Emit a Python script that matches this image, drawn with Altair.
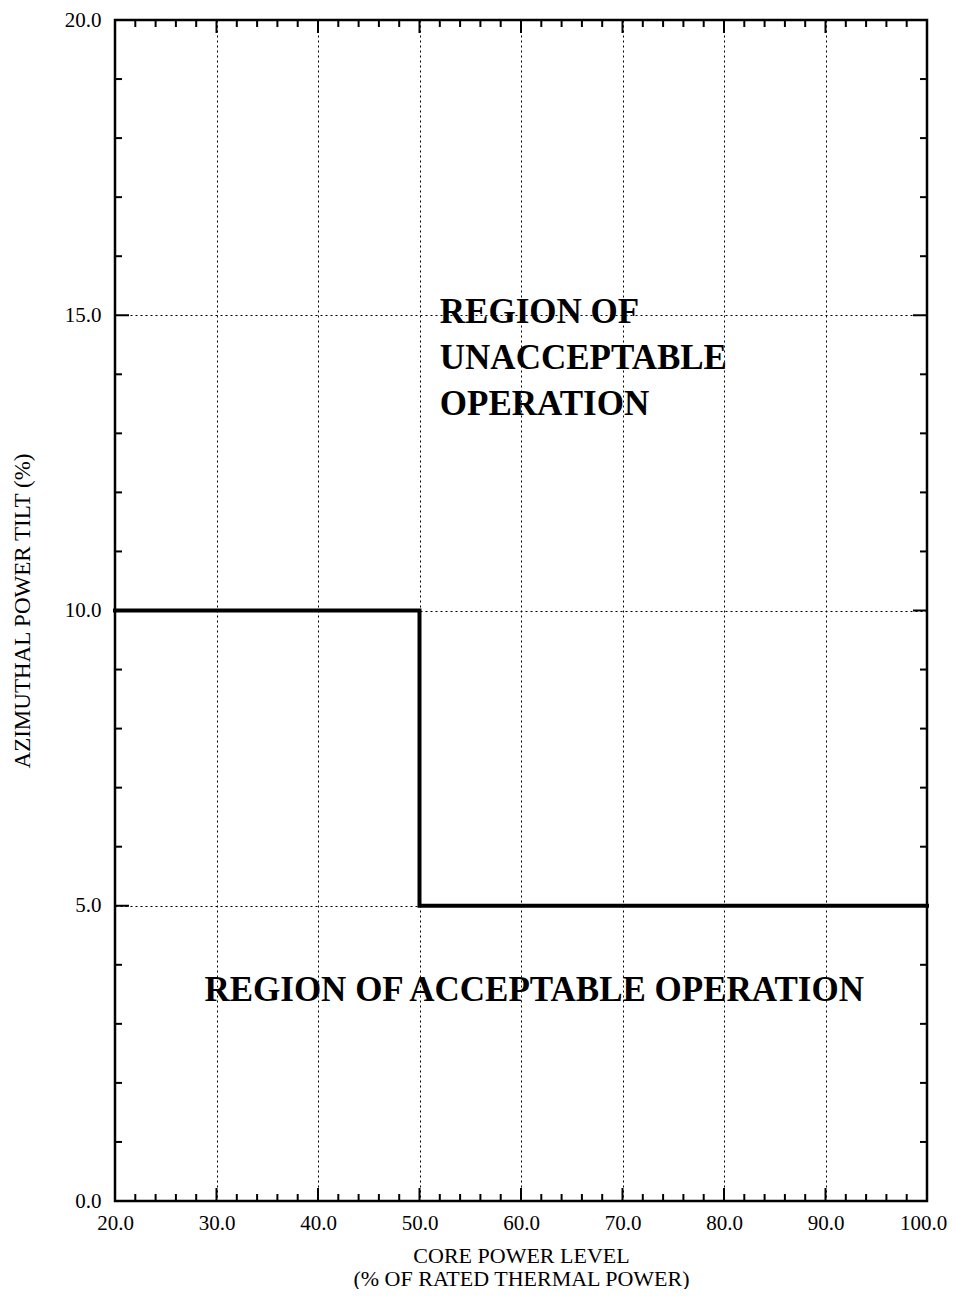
import altair as alt
import pandas as pd

# Limit line (step)
limit_power = [20.0, 50.0, 50.0, 100.0]
limit_tilt = [10.0, 10.0, 5.0, 5.0]

# Axis ticks
x_major = [20, 30, 40, 50, 60, 70, 80, 90, 100]
y_major = [0, 5, 10, 15, 20]
x_minor = [v for v in range(22, 100, 2) if v % 10 != 0]
y_minor = [v for v in range(1, 20) if v % 5 != 0]
x_major_inner = [30, 40, 50, 60, 70, 80, 90]
y_major_inner = [5, 10, 15]

# Annotations
ann_text = [["REGION OF", "UNACCEPTABLE", "OPERATION"], ["REGION OF ACCEPTABLE OPERATION"]]
ann_x = [52.0, 61.3]
ann_y = [15.05, 3.57]
ann_align = ["left", "center"]

W, H = 812, 1181
FONT = "Liberation Serif"

xs = alt.Scale(domain=[20, 100], nice=False, zero=False)
ys = alt.Scale(domain=[0, 20], nice=False, zero=False)

line_df = pd.DataFrame({"power": limit_power, "tilt": limit_tilt})

base_line = alt.Chart(line_df).mark_line(color="black", strokeWidth=4, interpolate="linear", strokeCap="square").encode(
    x=alt.X("power:Q", scale=xs,
            axis=alt.Axis(values=x_major, format=".1f", title=["CORE POWER LEVEL", "(% OF RATED THERMAL POWER)"],
                          grid=True, gridDash=[2, 3], gridColor="black", gridWidth=1, gridOpacity=1,
                          domain=False, ticks=False, labelPadding=11, labelFont=FONT, labelFontSize=21,
                          labelOffset={"condition": {"test": "datum.value === 100", "value": -4}, "value": 0},
                          labelColor="black", titleFont=FONT, titleFontSize=22, titleFontWeight="normal",
                          titleColor="black", titlePadding=12, titleLineHeight=23, labelFlush=False)),
    y=alt.Y("tilt:Q", scale=ys,
            axis=alt.Axis(values=y_major, format=".1f", title="AZIMUTHAL POWER TILT (%)",
                          grid=True, gridDash=[2, 3], gridColor="black", gridWidth=1, gridOpacity=1,
                          domain=False, ticks=False, labelPadding=14, labelFont=FONT, labelFontSize=21,
                          labelColor="black", titleFont=FONT, titleFontSize=23, titleFontWeight="normal",
                          titleColor="black", titlePadding=30, labelFlush=False)),
    order=alt.Order("idx:Q"),
).transform_window(idx="row_number()")

def xticks(vals, length):
    df = pd.DataFrame({"v": vals})
    bottom = alt.Chart(df).mark_rule(color="black", strokeWidth=2).encode(
        x=alt.X("v:Q", scale=xs), y=alt.value(H), y2=alt.value(H - length))
    top = alt.Chart(df).mark_rule(color="black", strokeWidth=2).encode(
        x=alt.X("v:Q", scale=xs), y=alt.value(0), y2=alt.value(length))
    return [bottom, top]

def yticks(vals, length):
    df = pd.DataFrame({"v": vals})
    left = alt.Chart(df).mark_rule(color="black", strokeWidth=2).encode(
        y=alt.Y("v:Q", scale=ys), x=alt.value(0), x2=alt.value(length))
    right = alt.Chart(df).mark_rule(color="black", strokeWidth=2).encode(
        y=alt.Y("v:Q", scale=ys), x=alt.value(W), x2=alt.value(W - length))
    return [left, right]

tick_layers = xticks(x_minor, 7) + xticks(x_major_inner, 13) + yticks(y_minor, 7) + yticks(y_major_inner, 14)

ann_layers = []
for t, xv, yv, al in zip(ann_text, ann_x, ann_y, ann_align):
    df = pd.DataFrame({"x": [xv], "y": [yv]})
    ann_layers.append(
        alt.Chart(df).mark_text(text=t, font=FONT, fontSize=35, fontWeight="bold", color="black",
                                align=al, baseline="middle", lineHeight=46).encode(
            x=alt.X("x:Q", scale=xs), y=alt.Y("y:Q", scale=ys))
    )

chart = alt.layer(base_line, *tick_layers, *ann_layers).properties(
    width=W, height=H,
    background="white",
    autosize=alt.AutoSizeParams(type="none"),
    padding={"left": 107, "top": 12, "right": 21, "bottom": 88},
).configure_view(stroke="black", strokeWidth=2.5)

chart.save("out.html", embed_options={"renderer": "svg", "actions": False})
